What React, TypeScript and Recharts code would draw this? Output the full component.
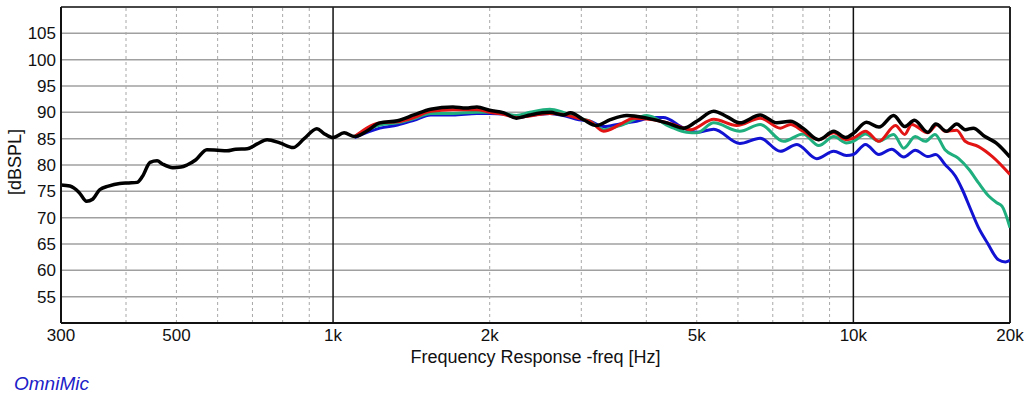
import React from "react";
import { LineChart, Line, XAxis, YAxis, CartesianGrid, ReferenceLine, Label } from "recharts";

const freqTicks = [300, 500, 1000, 2000, 5000, 10000, 20000];
const dbTicks = [55, 60, 65, 70, 75, 80, 85, 90, 95, 100, 105];
const minorFreqs = [400, 500, 600, 700, 800, 900, 2000, 3000, 4000, 5000, 6000, 7000, 8000, 9000];
const majorFreqs = [1000, 10000];

const blackFreq = [
  300, 312, 325, 336, 345, 356, 370, 389, 405, 420, 430, 445, 459, 470, 492, 510, 524, 545, 572, 600,
  625, 650, 684, 715, 747, 790, 838, 880, 931, 960, 1000, 1050, 1100, 1160, 1230, 1330, 1430, 1540,
  1700, 1800, 1890, 2000, 2130, 2250, 2390, 2610, 2770, 2860, 3030, 3210, 3410, 3670, 4010, 4380,
  4720, 5000, 5390, 5710, 6050, 6620, 7130, 7570, 8000, 8580, 9170, 9660, 10000, 10600, 11200,
  11950, 12550, 13100, 13900, 14400, 15100, 15800, 16400, 17000, 17900, 18800, 20000,
];
const blackDb = [
  76.2, 76.0, 74.8, 73.1, 73.5, 75.3, 76.0, 76.5, 76.6, 76.7, 77.8, 80.5, 80.8, 80.2, 79.5, 79.6, 80.0,
  81.0, 82.9, 82.8, 82.7, 83.0, 83.1, 84.0, 84.8, 84.2, 83.3, 85.0, 86.9, 86.0, 85.2, 86.1, 85.4, 86.4,
  88.0, 88.4, 89.5, 90.6, 91.0, 90.8, 91.0, 90.4, 89.9, 88.9, 89.5, 90.0, 89.5, 89.9, 88.6, 87.5, 88.6,
  89.4, 88.9, 88.0, 87.0, 88.3, 90.2, 89.2, 88.0, 89.5, 88.0, 88.3, 87.0, 84.8, 86.4, 85.2, 86.0, 88.1,
  87.2, 89.4, 87.3, 88.5, 86.2, 87.8, 86.4, 87.8, 86.7, 87.0, 85.4, 84.2, 81.5,
];

const redFreq = [
  1100, 1230, 1330, 1430, 1540, 1700, 1890, 2000, 2130, 2250, 2390, 2610, 2770, 2970, 3120, 3310, 3560,
  3780, 4130, 4510, 4860, 5390, 5970, 6620, 7240, 7570, 8000, 8580, 9170, 9700, 10000, 10550, 11200,
  12050, 12550, 12950, 13900, 14500, 15000, 15800, 16400, 17400, 18500, 20000,
];
const redDb = [
  85.4, 88.0, 88.2, 89.0, 90.2, 90.5, 90.5, 90.0, 89.6, 89.0, 89.3, 89.8, 89.6, 88.8, 88.3, 86.4, 87.7,
  88.9, 88.6, 87.7, 86.7, 88.7, 87.5, 88.9, 87.0, 87.7, 86.4, 84.8, 86.1, 84.8, 85.1, 86.4, 84.5, 87.5,
  85.8, 87.7, 86.1, 87.7, 86.4, 86.6, 84.5, 83.5, 81.6, 78.2,
];

const greenFreq = [
  1100, 1230, 1330, 1430, 1540, 1700, 1890, 2000, 2130, 2250, 2390, 2610, 2770, 2970, 3120, 3310, 3610,
  4010, 4440, 4780, 5000, 5390, 6050, 6620, 7340, 8000, 8580, 9170, 9700, 10000, 10550, 11200, 11950,
  12500, 13150, 13750, 14350, 15000, 15900, 16700, 17400, 18200, 18900, 19300, 20000,
];
const greenDb = [
  85.4, 87.6, 88.0, 88.8, 89.8, 89.8, 90.0, 90.0, 89.8, 89.4, 90.0, 90.6, 90.0, 88.9, 88.3, 86.7, 87.7,
  89.4, 87.3, 86.2, 86.1, 88.0, 86.4, 87.7, 84.5, 85.9, 83.7, 85.4, 84.2, 84.5, 85.9, 84.5, 85.8, 83.2,
  85.4, 84.5, 85.8, 82.9, 81.3, 79.1, 76.6, 74.1, 72.8, 72.2, 68.1,
];

const blueFreq = [
  1100, 1230, 1330, 1430, 1540, 1700, 1890, 2000, 2130, 2250, 2390, 2610, 2770, 2970, 3120, 3310, 3560,
  3780, 4130, 4310, 4720, 5000, 5390, 6050, 6620, 7240, 7790, 8500, 9170, 9700, 10000, 10550, 11200,
  11850, 12500, 13150, 13900, 14400, 15000, 15700, 16200, 16800, 17400, 18100, 19000, 19600, 20000,
];
const blueDb = [
  85.2, 87.0, 87.6, 88.5, 89.5, 89.5, 89.8, 89.8, 89.7, 89.0, 89.4, 89.8, 89.4, 88.6, 88.3, 87.3, 87.8,
  88.2, 89.0, 89.0, 87.0, 86.2, 86.8, 84.1, 85.1, 82.6, 83.9, 81.2, 82.6, 81.8, 82.0, 83.9, 82.0, 83.0,
  81.5, 82.8, 81.6, 82.0, 80.1, 77.9, 75.3, 71.6, 68.1, 65.2, 62.0, 61.6, 61.9,
];

const toPoints = (freq: number[], db: number[]) => freq.map((f, i) => ({ f, db: db[i] }));

const series = [
  { name: "blue", color: "#1212d2", width: 3, data: toPoints(blueFreq, blueDb) },
  { name: "green", color: "#1fae7e", width: 3, data: toPoints(greenFreq, greenDb) },
  { name: "red", color: "#e21414", width: 3, data: toPoints(redFreq, redDb) },
  { name: "black", color: "#000000", width: 3.5, data: toPoints(blackFreq, blackDb) },
];

const fmtFreq = (v: number) => (v >= 1000 ? `${v / 1000}k` : `${v}`);
const font = "'Liberation Sans', Arial, sans-serif";

export default function App() {
  return (
    <div style={{ position: "absolute", left: 0, top: 0, width: 1024, height: 399, background: "#fff", fontFamily: font }}>
      <LineChart width={1024} height={399} margin={{ top: 7, right: 14, bottom: 0, left: 0 }}>
        <CartesianGrid vertical={false} stroke="#a0a0a0" strokeWidth={1.5} />
        {minorFreqs.map((f) => (
          <ReferenceLine key={f} x={f} stroke="#a8a8a8" strokeDasharray="3 3" strokeWidth={1} />
        ))}
        {majorFreqs.map((f) => (
          <ReferenceLine key={f} x={f} stroke="#111" strokeWidth={1.5} />
        ))}
        <ReferenceLine y={110} stroke="#222" strokeWidth={1.5} />
        <ReferenceLine x={20000} stroke="#222" strokeWidth={2} />
        <XAxis
          dataKey="f"
          type="number"
          scale="log"
          domain={[300, 20000]}
          ticks={freqTicks}
          tickFormatter={fmtFreq}
          allowDataOverflow
          height={76}
          tickLine={false}
          tickSize={4}
          axisLine={{ stroke: "#111", strokeWidth: 2 }}
          tick={{ fill: "#111", fontSize: 17, fontFamily: font }}
        >
          <Label
            value="Frequency Response -freq [Hz]"
            position="insideBottom"
            offset={36}
            style={{ fill: "#111", fontSize: 18, fontFamily: font }}
          />
        </XAxis>
        <YAxis
          type="number"
          domain={[50, 110]}
          ticks={dbTicks}
          width={61}
          tickLine={false}
          tickSize={3}
          interval={0}
          allowDataOverflow
          axisLine={{ stroke: "#111", strokeWidth: 2 }}
          tick={{ fill: "#111", fontSize: 17, fontFamily: font }}
        />
        {series.map((s) => (
          <Line
            key={s.name}
            data={s.data}
            dataKey="db"
            type="monotone"
            stroke={s.color}
            strokeWidth={s.width}
            dot={false}
            activeDot={false}
            isAnimationActive={false}
          />
        ))}
      </LineChart>
      <div
        style={{
          position: "absolute",
          left: 15,
          top: 162,
          transform: "translate(-50%, -50%) rotate(-90deg)",
          fontSize: 18,
          color: "#111",
          whiteSpace: "nowrap",
        }}
      >
        [dBSPL]
      </div>
      <div
        style={{
          position: "absolute",
          left: 14,
          top: 373,
          fontSize: 19,
          fontStyle: "italic",
          color: "#2020c8",
          whiteSpace: "nowrap",
        }}
      >
        OmniMic
      </div>
    </div>
  );
}
